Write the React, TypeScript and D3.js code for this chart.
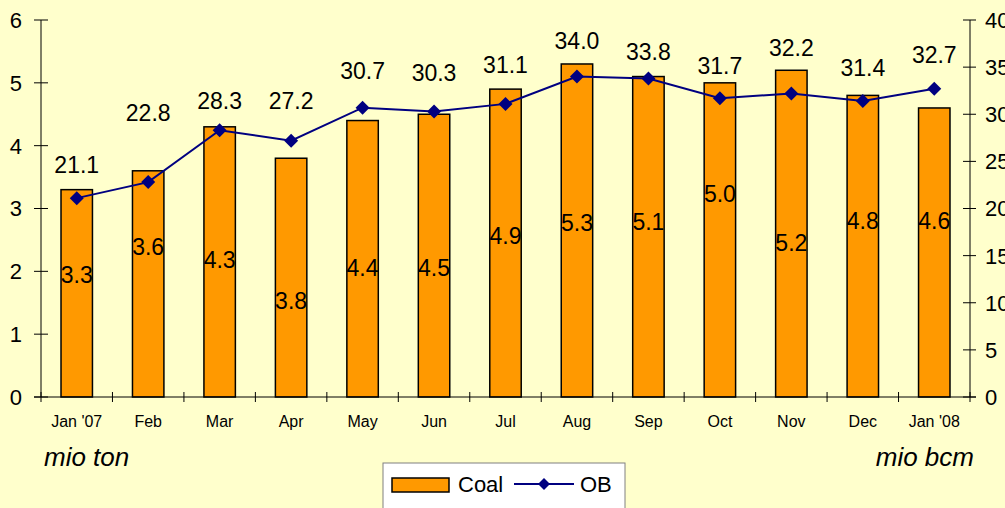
import React from "react";
import * as d3 from "d3";

// month labels
const months = ["Jan '07", "Feb", "Mar", "Apr", "May", "Jun", "Jul", "Aug", "Sep", "Oct", "Nov", "Dec", "Jan '08"];
// coal production (mio ton), left axis
const coal = [3.3, 3.6, 4.3, 3.8, 4.4, 4.5, 4.9, 5.3, 5.1, 5.0, 5.2, 4.8, 4.6];
// overburden (mio bcm), right axis
const ob = [21.1, 22.8, 28.3, 27.2, 30.7, 30.3, 31.1, 34.0, 33.8, 31.7, 32.2, 31.4, 32.7];
// where the labels sit, in each axis' own units (as placed in the original)
const coalLabelAt = [1.94, 2.39, 2.18, 1.54, 2.05, 2.05, 2.56, 2.77, 2.79, 3.23, 2.45, 2.8, 2.8];
const obLabelAt = [24.6, 30.2, 31.4, 31.4, 34.6, 34.4, 35.3, 37.8, 36.6, 35.1, 37.1, 34.9, 36.3];
const leftTicks = [0, 1, 2, 3, 4, 5, 6];
const rightTicks = [0, 5, 10, 15, 20, 25, 30, 35, 40];

const W = 1005;
const H = 508;
const font = "'Liberation Sans', Arial, sans-serif";

export default function App() {
  const margin = { left: 41, right: 35, top: 20, bottom: 111 };
  const x = d3
    .scaleBand()
    .domain(months)
    .range([margin.left, W - margin.right])
    .paddingInner(0.56)
    .paddingOuter(0.28);
  const xEdge = d3.scaleLinear().domain([0, months.length]).range([margin.left, W - margin.right]);
  const yL = d3.scaleLinear().domain([0, 6]).range([H - margin.bottom, margin.top]);
  const yR = d3.scaleLinear().domain([0, 40]).range([H - margin.bottom, margin.top]);
  const cx = (m: string) => (x(m) as number) + x.bandwidth() / 2;

  const line = d3
    .line<number>()
    .x((_, i) => cx(months[i]))
    .y((d) => yR(d));

  const diamond = (px: number, py: number, r = 7) =>
    `M${px},${py - r}L${px + r},${py}L${px},${py + r}L${px - r},${py}Z`;

  const x0 = margin.left;
  const x1 = W - margin.right;
  const y0 = yL(0);

  return (
    <svg width={W} height={H} style={{ position: "absolute", left: 0, top: 0, background: "#FFFFCC" }} fontFamily={font}>
      <rect width={W} height={H} fill="#FFFFCC" />

      {/* bars */}
      {coal.map((v, i) => (
        <rect
          key={months[i]}
          x={x(months[i])}
          y={yL(v)}
          width={x.bandwidth()}
          height={y0 - yL(v)}
          fill="#FF9900"
          stroke="#000"
          strokeWidth={1.5}
        />
      ))}

      {/* left axis */}
      <line x1={x0} x2={x0} y1={yL(6)} y2={y0} stroke="#000" />
      {leftTicks.map((t) => (
        <g key={"l" + t}>
          <line x1={x0 - 7} x2={x0 + 7} y1={yL(t)} y2={yL(t)} stroke="#000" />
          <text x={22} y={yL(t)} dy="0.36em" textAnchor="end" fontSize={22}>
            {t}
          </text>
        </g>
      ))}

      {/* right axis */}
      <line x1={x1} x2={x1} y1={yR(40)} y2={y0} stroke="#000" />
      {rightTicks.map((t) => (
        <g key={"r" + t}>
          <line x1={x1 - 7} x2={x1 + 6} y1={yR(t)} y2={yR(t)} stroke="#000" />
          <text x={985} y={yR(t)} dy="0.36em" fontSize={22}>
            {t}
          </text>
        </g>
      ))}

      {/* x axis */}
      <line x1={x0 - 7} x2={x1 + 6} y1={y0} y2={y0} stroke="#000" />
      {d3.range(months.length + 1).map((i) => (
        <line key={"xt" + i} x1={xEdge(i)} x2={xEdge(i)} y1={y0 - 5} y2={y0 + 5} stroke="#000" />
      ))}
      {months.map((m) => (
        <text key={"xl" + m} x={cx(m)} y={427} textAnchor="middle" fontSize={16}>
          {m}
        </text>
      ))}

      {/* coal labels */}
      {coal.map((v, i) => (
        <text key={"cl" + i} x={cx(months[i])} y={yL(coalLabelAt[i])} dy="0.36em" textAnchor="middle" fontSize={23}>
          {v.toFixed(1)}
        </text>
      ))}

      {/* OB line */}
      <path d={line(ob) || ""} fill="none" stroke="#000080" strokeWidth={2} />
      {ob.map((v, i) => (
        <path key={"d" + i} d={diamond(cx(months[i]), yR(v))} fill="#000080" />
      ))}
      {ob.map((v, i) => (
        <text key={"ol" + i} x={cx(months[i])} y={yR(obLabelAt[i])} dy="0.36em" textAnchor="middle" fontSize={23}>
          {v.toFixed(1)}
        </text>
      ))}

      {/* unit labels */}
      <text x={44} y={466} fontSize={26} fontStyle="italic">
        mio ton
      </text>
      <text x={974} y={466} fontSize={26} fontStyle="italic" textAnchor="end">
        mio bcm
      </text>

      {/* legend */}
      <rect x={383} y={463} width={242} height={60} fill="#fff" stroke="#808080" />
      <rect x={392} y={478} width={57} height={14} fill="#FF9900" stroke="#000" strokeWidth={1.5} />
      <text x={458} y={492} fontSize={22}>
        Coal
      </text>
      <line x1={514} x2={574} y1={484} y2={484} stroke="#000080" strokeWidth={2} />
      <path d={diamond(544, 484, 6)} fill="#000080" />
      <text x={580} y={492} fontSize={22}>
        OB
      </text>
    </svg>
  );
}
